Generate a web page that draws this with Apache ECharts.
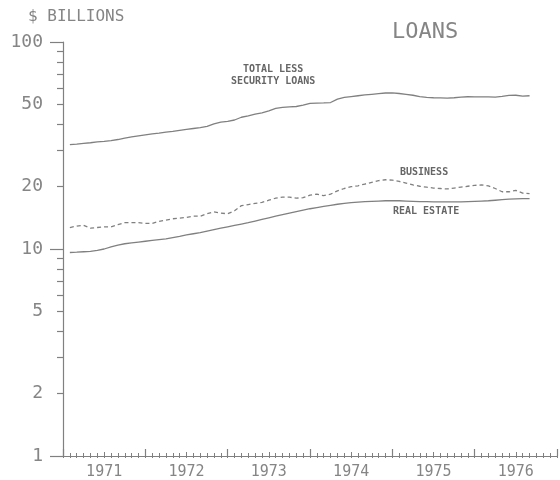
<!DOCTYPE html>
<html><head><meta charset="utf-8">
<script src="https://cdn.jsdelivr.net/npm/echarts@6/dist/echarts.min.js"></script>
<style>html,body{margin:0;padding:0;background:#fff}#c{width:560px;height:480px}</style>
</head><body><div id="c"></div>
<script>
// months since Jan 1 1971 (month-end observations), Jan 1971 .. Aug 1976
const months = Array.from({length: 68}, (_, i) => i + 1);
const yearLabels = ['1971','1972','1973','1974','1975','1976'];
const yLabelValues = [1, 2, 5, 10, 20, 50, 100];
const yMinorTickValues = [2,3,4,5,6,7,8,9,20,30,40,50,60,70,80,90];

const totalLessSecurity = [
31.9,32.1,32.4,32.6,32.9,33.1,33.4,33.8,34.3,34.8,35.2,35.6,
36.0,36.3,36.7,37.0,37.4,37.8,38.2,38.6,39.1,40.2,41.0,41.4,
42.0,43.3,44.0,44.8,45.5,46.5,47.8,48.3,48.6,48.8,49.5,50.5,
50.7,50.8,51.0,53.0,54.0,54.5,55.0,55.5,55.9,56.3,56.7,56.8,
56.4,55.9,55.3,54.5,54.0,53.8,53.7,53.6,53.8,54.2,54.4,54.3,
54.3,54.3,54.2,54.6,55.2,55.3,54.8,55.0];
const business = [
12.7,12.9,13.0,12.6,12.7,12.8,12.8,13.1,13.4,13.4,13.4,13.3,
13.3,13.6,13.8,14.0,14.1,14.2,14.4,14.4,14.8,15.1,14.9,14.8,
15.3,16.2,16.4,16.6,16.8,17.2,17.6,17.8,17.8,17.6,17.7,18.2,
18.4,18.1,18.4,19.1,19.6,20.0,20.2,20.6,21.0,21.4,21.6,21.5,
21.2,20.8,20.4,20.1,19.9,19.7,19.6,19.5,19.7,19.9,20.1,20.3,
20.4,20.2,19.6,18.9,18.9,19.2,18.6,18.5];
const realEstate = [
9.62,9.65,9.7,9.75,9.85,10.0,10.25,10.45,10.6,10.7,10.8,10.9,
11.0,11.1,11.2,11.35,11.5,11.7,11.85,12.0,12.2,12.4,12.6,12.8,
13.0,13.2,13.4,13.65,13.9,14.15,14.4,14.65,14.9,15.15,15.4,15.65,
15.85,16.05,16.25,16.45,16.6,16.75,16.85,16.95,17.0,17.05,17.1,17.1,
17.1,17.05,17.0,16.95,16.95,16.9,16.9,16.9,16.9,16.9,16.95,17.0,
17.05,17.1,17.2,17.3,17.4,17.45,17.5,17.5];

const GRAY = '#808080';
const TXT = '#858585';
const pair = arr => arr.map((v, i) => [months[i], v]);
const grid = {left: 63, right: 3, top: 42, bottom: 24};
const baseX = {type: 'value', min: 0, max: 72, gridIndex: 0, position: 'bottom', offset: 0, splitLine: {show: false}};
const chart = echarts.init(document.getElementById('c'));
chart.setOption({
  animation: false,
  backgroundColor: '#fff',
  grid: grid,
  xAxis: [
    Object.assign({}, baseX, {
      interval: 12,
      axisLine: {show: true, lineStyle: {color: GRAY, width: 1.2}},
      axisTick: {show: true, inside: true, length: 7, lineStyle: {color: GRAY, width: 1.2}},
      axisLabel: {
        show: true, customValues: [6, 18, 30, 42, 54, 66], margin: 9,
        color: TXT, fontFamily: 'DejaVu Sans Mono', fontSize: 15,
        formatter: v => yearLabels[Math.floor(v / 12)]
      }
    }),
    Object.assign({}, baseX, {
      interval: 6,
      axisLine: {show: false},
      axisTick: {show: true, inside: true, length: 4, lineStyle: {color: GRAY, width: 1}},
      minorTick: {show: true, splitNumber: 6, length: 3, lineStyle: {color: GRAY, width: 1}},
      axisLabel: {show: false}
    }),
    Object.assign({}, baseX, {
      interval: 6,
      axisLine: {show: false},
      axisTick: {show: true, inside: false, length: 2, lineStyle: {color: GRAY, width: 1}},
      minorTick: {show: true, splitNumber: 6, length: 2, lineStyle: {color: GRAY, width: 1}},
      axisLabel: {show: false}
    })
  ],
  yAxis: [
    {
      type: 'log', logBase: 10, min: 1, max: 100, position: 'left', offset: 0,
      splitLine: {show: false},
      axisLine: {show: true, lineStyle: {color: GRAY, width: 1.2}},
      axisTick: {show: true, length: 13, lineStyle: {color: GRAY, width: 1.2}},
      axisLabel: {
        show: true, customValues: yLabelValues, margin: 20,
        color: TXT, fontFamily: 'DejaVu Sans Mono', fontSize: 18
      }
    },
    {
      type: 'log', logBase: 10, min: 1, max: 100, position: 'left', offset: 0,
      splitLine: {show: false},
      axisLine: {show: false},
      axisTick: {show: true, length: 6, customValues: yMinorTickValues, lineStyle: {color: GRAY, width: 1.2}},
      axisLabel: {show: false}
    }
  ],
  series: [
    {type: 'line', name: 'TOTAL LESS SECURITY LOANS', data: pair(totalLessSecurity), showSymbol: false,
     lineStyle: {color: GRAY, width: 1.3}, xAxisIndex: 0, yAxisIndex: 0},
    {type: 'line', name: 'BUSINESS', data: pair(business), showSymbol: false,
     lineStyle: {color: GRAY, width: 1.3, type: [4, 3]}, xAxisIndex: 0, yAxisIndex: 0},
    {type: 'line', name: 'REAL ESTATE', data: pair(realEstate), showSymbol: false,
     lineStyle: {color: GRAY, width: 1.3}, xAxisIndex: 0, yAxisIndex: 0}
  ],
  graphic: [
    {type: 'text', left: 28, top: 9, style: {text: '$ BILLIONS', fill: TXT, font: '16px "DejaVu Sans Mono"'}},
    {type: 'text', left: 392, top: 21, style: {text: 'LOANS', fill: TXT, font: '22px "DejaVu Sans Mono"'}},
    {type: 'text', left: 243, top: 64, style: {text: 'TOTAL LESS', fill: '#666', font: 'bold 10px "DejaVu Sans Mono"'}},
    {type: 'text', left: 231, top: 76, style: {text: 'SECURITY LOANS', fill: '#666', font: 'bold 10px "DejaVu Sans Mono"'}},
    {type: 'text', left: 400, top: 167, style: {text: 'BUSINESS', fill: '#666', font: 'bold 10px "DejaVu Sans Mono"'}},
    {type: 'text', left: 393, top: 206, style: {text: 'REAL ESTATE', fill: '#666', font: 'bold 10px "DejaVu Sans Mono"'}}
  ]
});
</script></body></html>
